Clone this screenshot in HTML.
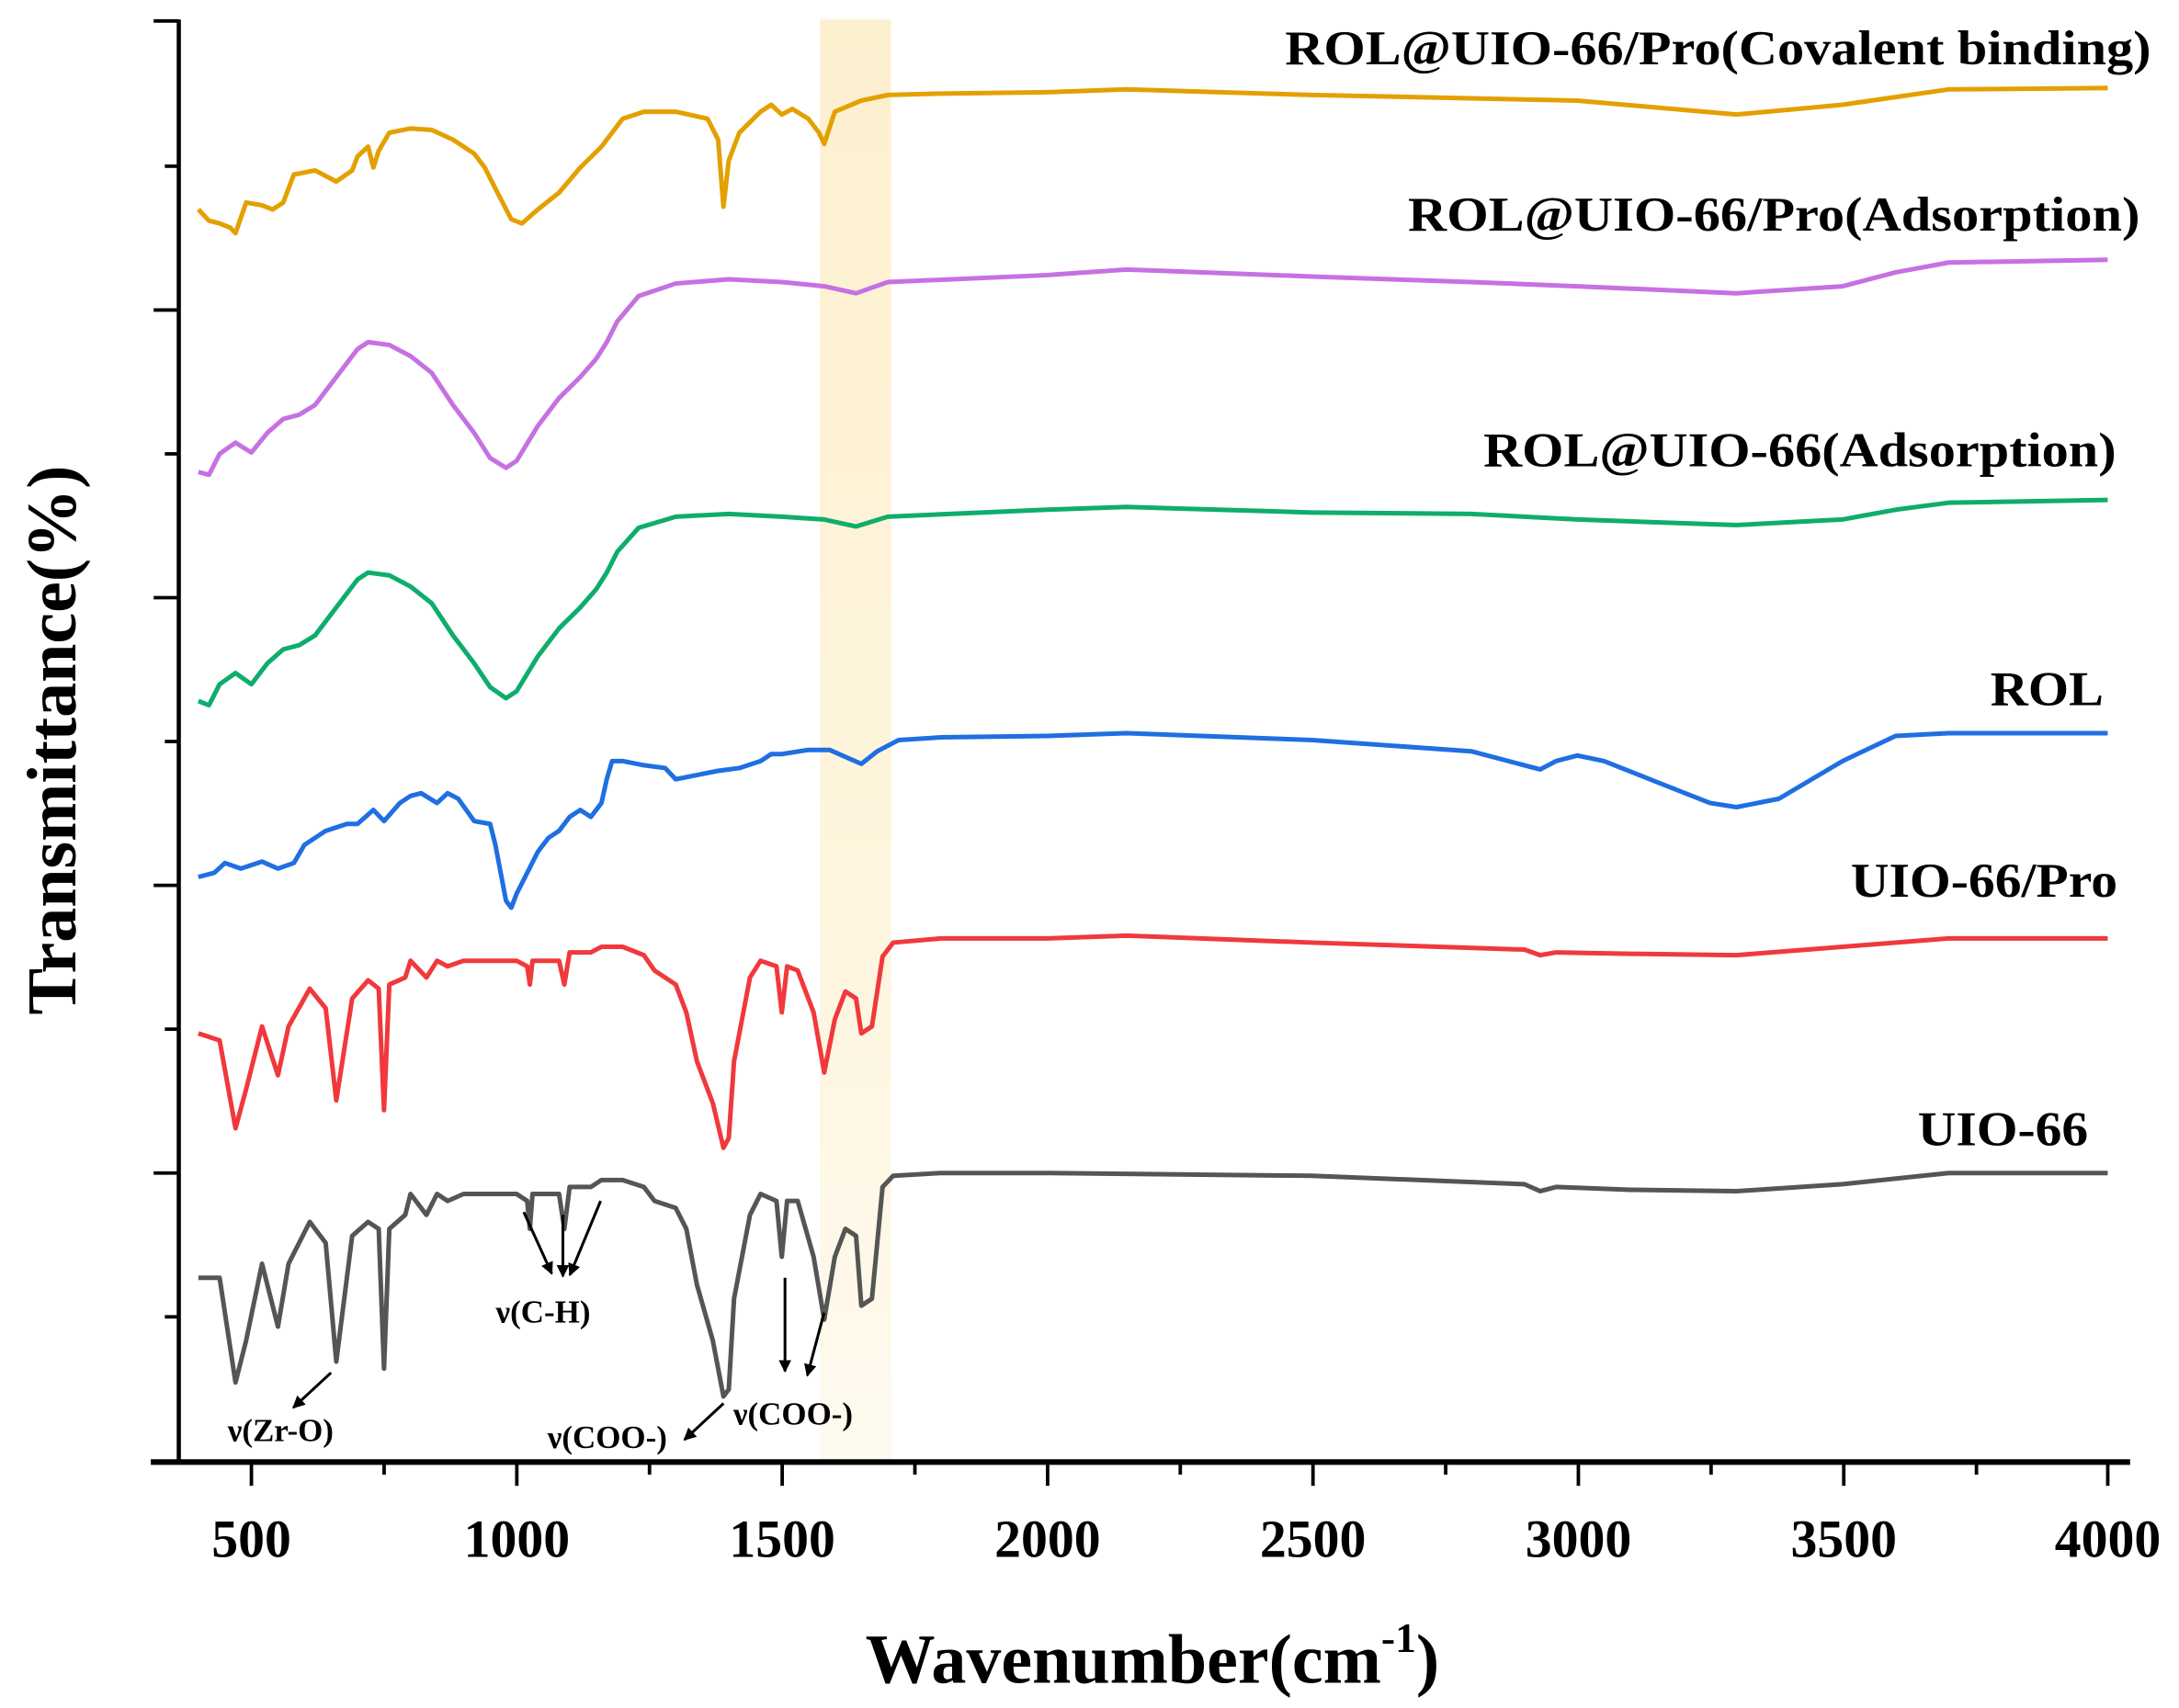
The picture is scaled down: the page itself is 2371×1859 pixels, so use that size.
<!DOCTYPE html>
<html><head><style>html,body{margin:0;padding:0;background:#fff}svg{display:block}</style></head>
<body>
<svg width="2371" height="1859" viewBox="0 0 1560 1223.1" xmlns="http://www.w3.org/2000/svg" font-family="Liberation Serif, serif" font-weight="bold">
<defs>
<linearGradient id="band" x1="0" y1="0" x2="0" y2="1">
<stop offset="0" stop-color="#fdf0cf"/><stop offset="0.6" stop-color="#fef5de"/><stop offset="1" stop-color="#fffaf0"/>
</linearGradient>
<marker id="ah" markerWidth="9" markerHeight="9" refX="8" refY="4.5" orient="auto" markerUnits="userSpaceOnUse"><path d="M0,0 L9,4.5 L0,9 z" fill="#000"/></marker>
</defs>
<rect x="587" y="14" width="51" height="1033" fill="url(#band)"/>
<g transform="matrix(0.3797 0 0 1 -9.85 0)" fill="none" stroke-width="5" stroke-linejoin="round">
<polyline vector-effect="non-scaling-stroke" stroke="#555555" points="400,915 440,915 470,990 490,960 520,905 550,950 570,905 610,875 640,890 660,975 690,885 720,875 740,880 750,980 760,880 790,870 800,855 830,870 850,855 870,860 900,855 1000,855 1020,860 1025,880 1030,855 1080,855 1090,880 1100,850 1140,850 1160,845 1200,845 1240,850 1260,860 1300,865 1320,880 1340,920 1370,960 1390,1000 1400,995 1410,930 1440,870 1460,855 1490,860 1500,900 1510,860 1530,860 1560,900 1580,945 1600,900 1620,880 1640,885 1650,935 1670,930 1690,850 1710,842 1800,840 2000,840 2500,842 2900,848 2930,853 2960,850 3100,852 3300,853 3500,848 3700,840 4000,840"/>
<polyline vector-effect="non-scaling-stroke" stroke="#f0393c" points="400,740 440,745 470,808 490,780 520,735 550,770 570,735 610,708 640,722 660,788 690,715 720,702 740,708 750,795 760,705 790,700 800,688 830,700 850,688 870,692 900,688 1000,688 1020,692 1025,705 1030,688 1080,688 1090,705 1100,682 1140,682 1160,678 1200,678 1240,684 1260,695 1300,705 1320,725 1340,760 1370,790 1390,822 1400,815 1410,760 1440,700 1460,688 1490,692 1500,725 1510,692 1530,695 1560,725 1580,768 1600,730 1620,710 1640,715 1650,740 1670,735 1690,685 1710,675 1800,672 2000,672 2150,670 2500,675 2900,680 2930,684 2960,682 3100,683 3300,684 3500,678 3700,672 4000,672"/>
<polyline vector-effect="non-scaling-stroke" stroke="#1f6fe0" points="400,628 430,625 450,618 480,622 520,617 550,622 580,618 600,605 640,595 680,590 700,590 730,580 750,588 780,575 800,570 820,568 850,575 870,568 890,572 920,588 950,590 960,605 980,645 990,650 1000,640 1020,625 1040,610 1060,600 1080,595 1100,585 1120,580 1140,585 1160,575 1170,558 1180,545 1200,545 1240,548 1280,550 1300,558 1340,555 1380,552 1420,550 1460,545 1480,540 1500,540 1550,537 1590,537 1620,542 1650,547 1680,538 1720,530 1800,528 2000,527 2150,525 2500,530 2800,538 2900,548 2930,551 2960,545 3000,541 3050,545 3150,560 3250,575 3300,578 3380,572 3500,545 3600,527 3700,525 4000,525"/>
<polyline vector-effect="non-scaling-stroke" stroke="#0fad6b" points="400,502 420,505 440,490 470,482 500,490 530,475 560,465 590,462 620,455 660,435 700,415 720,410 760,412 800,420 840,432 880,455 920,475 950,492 980,500 1000,495 1040,470 1080,450 1120,435 1150,422 1170,410 1190,395 1230,378 1300,370 1400,368 1500,370 1580,372 1640,377 1700,370 2000,365 2150,363 2500,367 2800,368 3000,372 3300,376 3500,372 3600,365 3700,360 4000,358"/>
<polyline vector-effect="non-scaling-stroke" stroke="#c671e2" points="400,338 420,340 440,325 470,317 500,324 530,310 560,300 590,297 620,290 660,270 700,250 720,245 760,247 800,255 840,267 880,290 920,310 950,328 980,335 1000,330 1040,305 1080,285 1120,270 1150,257 1170,245 1190,230 1230,212 1300,203 1400,200 1500,202 1580,205 1640,210 1700,202 2000,197 2150,193 2500,198 2800,202 3000,205 3300,210 3500,205 3600,195 3700,188 4000,186"/>
<polyline vector-effect="non-scaling-stroke" stroke="#e3a000" points="400,150 420,158 440,160 460,163 470,167 490,145 520,147 540,150 560,145 580,125 620,122 660,130 690,122 700,112 720,105 730,120 740,108 760,95 800,92 840,93 880,100 920,110 940,120 960,135 990,157 1010,160 1040,150 1080,138 1120,120 1160,105 1200,85 1240,80 1300,80 1360,85 1380,100 1390,148 1400,115 1420,95 1460,80 1480,75 1500,82 1520,78 1550,85 1570,95 1580,103 1600,80 1650,72 1700,68 1800,67 2000,66 2150,64 2500,68 3000,72 3300,82 3500,75 3700,64 4000,63"/>
</g>
<g stroke="#000" fill="none">
<line x1="128" y1="14" x2="128" y2="1048" stroke-width="3"/>
<line x1="108" y1="1047" x2="1525" y2="1047" stroke-width="4"/>
<g stroke-width="2.5">
<line x1="110" y1="15" x2="128" y2="15"/><line x1="110" y1="222" x2="128" y2="222"/><line x1="110" y1="428" x2="128" y2="428"/><line x1="110" y1="634" x2="128" y2="634"/><line x1="110" y1="840" x2="128" y2="840"/>
<line x1="118" y1="119" x2="128" y2="119"/><line x1="118" y1="325" x2="128" y2="325"/><line x1="118" y1="531" x2="128" y2="531"/><line x1="118" y1="737" x2="128" y2="737"/><line x1="118" y1="943" x2="128" y2="943"/>
<line x1="180" y1="1047" x2="180" y2="1064"/><line x1="370" y1="1047" x2="370" y2="1064"/><line x1="560" y1="1047" x2="560" y2="1064"/><line x1="750" y1="1047" x2="750" y2="1064"/><line x1="940" y1="1047" x2="940" y2="1064"/><line x1="1130" y1="1047" x2="1130" y2="1064"/><line x1="1320" y1="1047" x2="1320" y2="1064"/><line x1="1509" y1="1047" x2="1509" y2="1064"/>
<line x1="275" y1="1047" x2="275" y2="1056"/><line x1="465" y1="1047" x2="465" y2="1056"/><line x1="655" y1="1047" x2="655" y2="1056"/><line x1="845" y1="1047" x2="845" y2="1056"/><line x1="1035" y1="1047" x2="1035" y2="1056"/><line x1="1225" y1="1047" x2="1225" y2="1056"/><line x1="1415" y1="1047" x2="1415" y2="1056"/>
</g>
</g>
<g font-size="38" text-anchor="middle" fill="#000">
<text x="180" y="1115">500</text><text x="370" y="1115">1000</text><text x="560" y="1115">1500</text><text x="750" y="1115">2000</text><text x="940" y="1115">2500</text><text x="1130" y="1115">3000</text><text x="1320" y="1115">3500</text><text x="1509" y="1115">4000</text>
</g>
<text x="825" y="1205" font-size="50" text-anchor="middle">Wavenumber(cm<tspan font-size="30" dy="-22">-1</tspan><tspan dy="22">)</tspan></text>
<text transform="translate(54,530) rotate(-90)" font-size="50" text-anchor="middle">Transmittance(%)</text>
<g font-size="35" fill="#000">
<text x="920" y="46" textLength="620" lengthAdjust="spacingAndGlyphs">ROL@UIO-66/Pro(Covalent binding)</text>
<text x="1008" y="165" textLength="524" lengthAdjust="spacingAndGlyphs">ROL@UIO-66/Pro(Adsorption)</text>
<text x="1062" y="334" textLength="453" lengthAdjust="spacingAndGlyphs">ROL@UIO-66(Adsorption)</text>
<text x="1425" y="505" textLength="81" lengthAdjust="spacingAndGlyphs">ROL</text>
<text x="1325" y="642" textLength="191" lengthAdjust="spacingAndGlyphs">UIO-66/Pro</text>
<text x="1373" y="820" textLength="122" lengthAdjust="spacingAndGlyphs">UIO-66</text>
</g>
<g font-size="23" fill="#000">
<text x="163" y="1032">ν(Zr-O)</text>
<text x="355" y="947">ν(C-H)</text>
<text x="392" y="1037">ν(COO-)</text>
<text x="525" y="1020">ν(COO-)</text>
</g>
<g stroke="#000" stroke-width="2" marker-end="url(#ah)">
<line x1="237" y1="983" x2="210" y2="1008"/>
<line x1="375" y1="868" x2="395" y2="912"/>
<line x1="403" y1="870" x2="403" y2="914"/>
<line x1="430" y1="860" x2="408" y2="913"/>
<line x1="518" y1="1005" x2="490" y2="1031"/>
<line x1="562" y1="915" x2="562" y2="982"/>
<line x1="590" y1="940" x2="578" y2="985"/>
</g>
</svg>
</body></html>
